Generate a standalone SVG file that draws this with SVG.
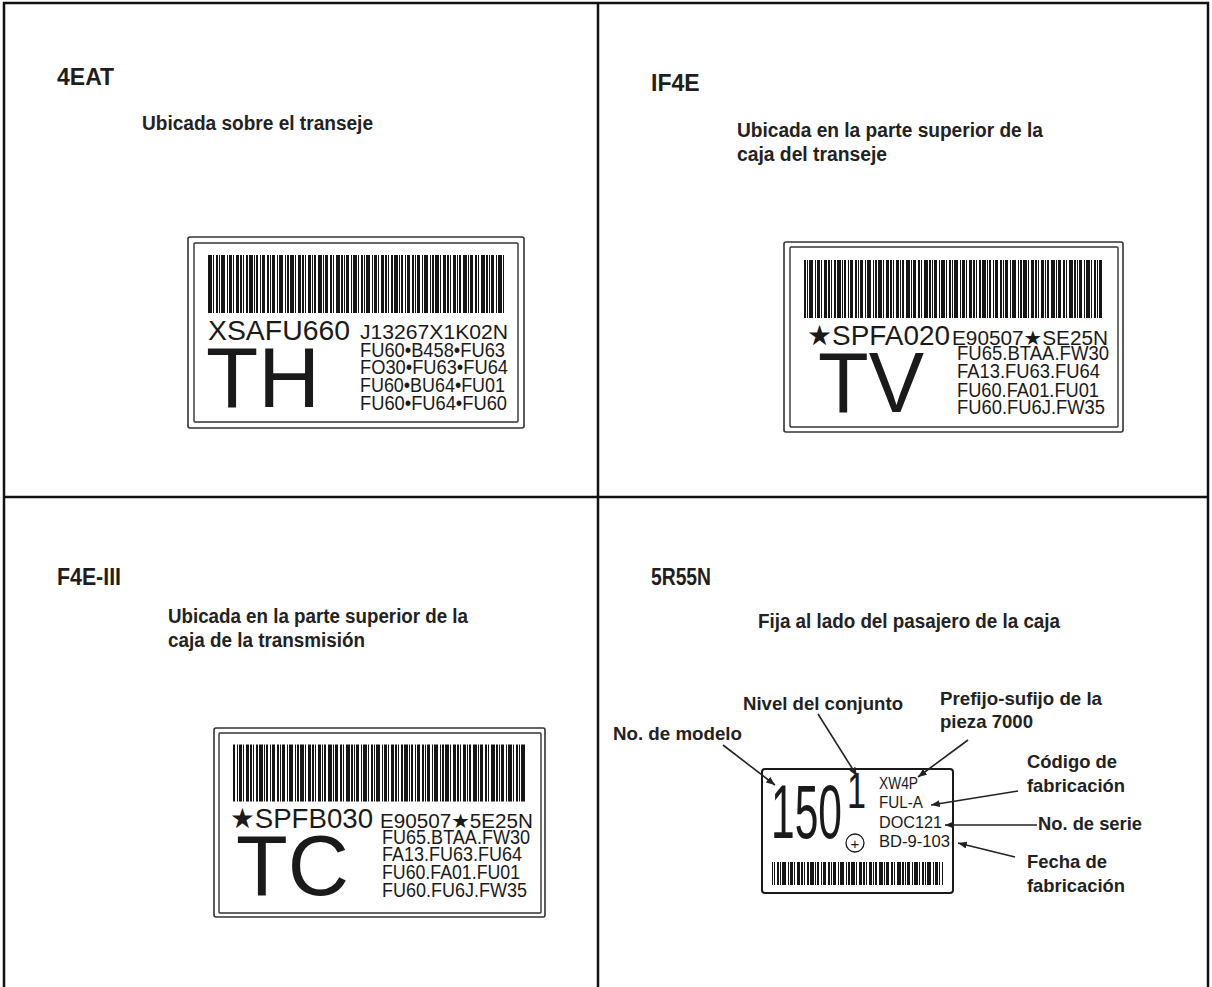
<svg xmlns="http://www.w3.org/2000/svg" width="1212" height="987" viewBox="0 0 1212 987">
<defs>
<style>
.frame{fill:none;stroke:#111;stroke-width:2.5}
.hdr{font-family:"Liberation Sans",Arial,sans-serif;font-weight:bold;font-size:23px;fill:#1e1e1e}
.desc{font-family:"Liberation Sans",Arial,sans-serif;font-weight:bold;font-size:20px;fill:#222}
.ann{font-family:"Liberation Sans",Arial,sans-serif;font-weight:bold;font-size:19px;fill:#222}
.lo{fill:#fff;stroke:#333;stroke-width:1.6}
.li{fill:none;stroke:#333;stroke-width:1.4}
.big{font-family:"Liberation Sans",Arial,sans-serif;font-size:86px;fill:#1a1a1a}
.code{font-family:"Liberation Sans","DejaVu Sans",Arial,sans-serif;font-size:28px;fill:#1a1a1a}
.sm{font-family:"Liberation Sans","DejaVu Sans",Arial,sans-serif;font-size:20px;fill:#1a1a1a}
.s4{font-family:"Liberation Sans",Arial,sans-serif;font-size:16.5px;fill:#1a1a1a}
.bc{stroke:#151515;fill:none;stroke-dasharray:4 1 1 2 2 1 1 1 4 2 1 1 3 1 1 2 3 1 2 1 1 2 2 1 4 1 1 1 2 2 1 1 3 2 2 1 1 1 3 2 1 1 4 2 1 1 2 1 4 1 1 2 3 1 2 1 1 2 3 1 1 1 2 2 4 1 1 1 3 2 2 1 1 2 4 1 2 1 1 1 3 2 1 1}
.conn{stroke:#222;stroke-width:1.6;fill:none;marker-end:url(#ah)}
</style>
<marker id="ah" viewBox="0 0 10 8" refX="10" refY="4" markerWidth="9" markerHeight="7" markerUnits="userSpaceOnUse" orient="auto">
<path d="M0,0 L10,4 L0,8 z" fill="#222"/>
</marker>
</defs>
<rect width="1212" height="987" fill="#fff"/>
<g id="frame">
<path class="frame" d="M4,987 V3 H1208 V987 M598,3 V987 M4,497 H1208"/>
</g>

<g id="panel-4eat">
<text class="hdr" x="57" y="85">4EAT</text>
<text class="desc" x="142" y="130" textLength="231" lengthAdjust="spacingAndGlyphs">Ubicada sobre el transeje</text>
<g id="label-th">
<rect class="lo" x="188" y="237" width="336" height="191" rx="2"/>
<rect class="li" x="194" y="243" width="324" height="179" rx="1"/>
<line class="bc" x1="208" y1="284" x2="505" y2="284" stroke-width="58"/>
<text class="code" x="208" y="340" textLength="142" lengthAdjust="spacingAndGlyphs">XSAFU660</text>
<text class="sm" x="360" y="339" textLength="148" lengthAdjust="spacingAndGlyphs">J13267X1K02N</text>
<text class="sm" x="360" y="357" textLength="145" lengthAdjust="spacingAndGlyphs">FU60•B458•FU63</text>
<text class="sm" x="360" y="374" textLength="148" lengthAdjust="spacingAndGlyphs">FO30•FU63•FU64</text>
<text class="sm" x="360" y="392" textLength="145" lengthAdjust="spacingAndGlyphs">FU60•BU64•FU01</text>
<text class="sm" x="360" y="410" textLength="147" lengthAdjust="spacingAndGlyphs">FU60•FU64•FU60</text>
<text class="big" x="206" y="407" textLength="114" lengthAdjust="spacingAndGlyphs">TH</text>
</g>
</g>

<g id="panel-if4e">
<text class="hdr" x="651" y="91">IF4E</text>
<text class="desc" x="737" y="137" textLength="306" lengthAdjust="spacingAndGlyphs">Ubicada en la parte superior de la</text>
<text class="desc" x="737" y="161" textLength="150" lengthAdjust="spacingAndGlyphs">caja del transeje</text>
<g id="label-tv">
<rect class="lo" x="784" y="242" width="339" height="190" rx="2"/>
<rect class="li" x="790" y="247" width="328" height="180" rx="1"/>
<line class="bc" x1="803" y1="289" x2="1102" y2="289" stroke-width="58" stroke-dashoffset="7"/>
<text class="code" x="807" y="345" textLength="143" lengthAdjust="spacingAndGlyphs">★SPFA020</text>
<text class="sm" x="952" y="345" textLength="156" lengthAdjust="spacingAndGlyphs">E90507★SE25N</text>
<text class="sm" x="957" y="360" textLength="152" lengthAdjust="spacingAndGlyphs">FU65.BTAA.FW30</text>
<text class="sm" x="957" y="378" textLength="143" lengthAdjust="spacingAndGlyphs">FA13.FU63.FU64</text>
<text class="sm" x="957" y="397" textLength="142" lengthAdjust="spacingAndGlyphs">FU60.FA01.FU01</text>
<text class="sm" x="957" y="414" textLength="148" lengthAdjust="spacingAndGlyphs">FU60.FU6J.FW35</text>
<text class="big" x="818" y="412" textLength="106" lengthAdjust="spacingAndGlyphs">TV</text>
</g>
</g>

<g id="panel-f4e-iii">
<text class="hdr" x="57" y="585" textLength="64" lengthAdjust="spacingAndGlyphs">F4E-III</text>
<text class="desc" x="168" y="623" textLength="300" lengthAdjust="spacingAndGlyphs">Ubicada en la parte superior de la</text>
<text class="desc" x="168" y="647" textLength="197" lengthAdjust="spacingAndGlyphs">caja de la transmisión</text>
<g id="label-tc">
<rect class="lo" x="214" y="728" width="331" height="189" rx="2"/>
<rect class="li" x="219" y="733" width="322" height="180" rx="1"/>
<line class="bc" x1="233" y1="773" x2="527" y2="773" stroke-width="57" stroke-dashoffset="15"/>
<text class="code" x="230" y="828" textLength="143" lengthAdjust="spacingAndGlyphs">★SPFB030</text>
<text class="sm" x="380" y="828" textLength="153" lengthAdjust="spacingAndGlyphs">E90507★5E25N</text>
<text class="sm" x="382" y="844" textLength="148" lengthAdjust="spacingAndGlyphs">FU65.BTAA.FW30</text>
<text class="sm" x="382" y="861" textLength="140" lengthAdjust="spacingAndGlyphs">FA13.FU63.FU64</text>
<text class="sm" x="382" y="879" textLength="138" lengthAdjust="spacingAndGlyphs">FU60.FA01.FU01</text>
<text class="sm" x="382" y="897" textLength="145" lengthAdjust="spacingAndGlyphs">FU60.FU6J.FW35</text>
<text class="big" x="236" y="895" textLength="113" lengthAdjust="spacingAndGlyphs">TC</text>
</g>
</g>

<g id="panel-5r55n">
<text class="hdr" x="651" y="585" textLength="60" lengthAdjust="spacingAndGlyphs">5R55N</text>
<text class="desc" x="758" y="628" textLength="302" lengthAdjust="spacingAndGlyphs">Fija al lado del pasajero de la caja</text>
<g id="label-150">
<rect x="762" y="769" width="191" height="124" rx="3" fill="#fff" stroke="#1a1a1a" stroke-width="2"/>
<text x="771" y="838" font-family="Liberation Sans, Arial, sans-serif" font-size="76" fill="#1a1a1a" textLength="71" lengthAdjust="spacingAndGlyphs">150</text>
<text x="847" y="808" font-family="Liberation Sans, Arial, sans-serif" font-size="50" fill="#1a1a1a" textLength="19" lengthAdjust="spacingAndGlyphs">1</text>
<circle cx="855" cy="843" r="9" fill="#fff" stroke="#1a1a1a" stroke-width="1.3"/>
<text x="855" y="848.5" text-anchor="middle" font-family="Liberation Sans, Arial, sans-serif" font-size="15" fill="#1a1a1a">+</text>
<text class="s4" x="879" y="789" textLength="39" lengthAdjust="spacingAndGlyphs">XW4P</text>
<text class="s4" x="879" y="808" textLength="44" lengthAdjust="spacingAndGlyphs">FUL-A</text>
<text class="s4" x="879" y="828" textLength="63" lengthAdjust="spacingAndGlyphs">DOC121</text>
<text class="s4" x="879" y="847" textLength="71" lengthAdjust="spacingAndGlyphs">BD-9-103</text>
<line class="bc" x1="772" y1="873.5" x2="943" y2="873.5" stroke-width="23" stroke-dashoffset="3"/>
</g>
<g id="annotations">
<text class="ann" x="613" y="740" textLength="129" lengthAdjust="spacingAndGlyphs">No. de modelo</text>
<text class="ann" x="743" y="710" textLength="160" lengthAdjust="spacingAndGlyphs">Nivel del conjunto</text>
<text class="ann" x="940" y="705" textLength="162" lengthAdjust="spacingAndGlyphs">Prefijo-sufijo de la</text>
<text class="ann" x="940" y="728" textLength="93" lengthAdjust="spacingAndGlyphs">pieza 7000</text>
<text class="ann" x="1027" y="768" textLength="90" lengthAdjust="spacingAndGlyphs">Código de</text>
<text class="ann" x="1027" y="792" textLength="98" lengthAdjust="spacingAndGlyphs">fabricación</text>
<text class="ann" x="1038" y="830" textLength="104" lengthAdjust="spacingAndGlyphs">No. de serie</text>
<text class="ann" x="1027" y="868" textLength="80" lengthAdjust="spacingAndGlyphs">Fecha de</text>
<text class="ann" x="1027" y="892" textLength="98" lengthAdjust="spacingAndGlyphs">fabricación</text>
</g>
</g>

<g id="connectors">
<line class="conn" x1="723" y1="745" x2="775" y2="785"/>
<line class="conn" x1="818" y1="714" x2="857" y2="776"/>
<line class="conn" x1="968" y1="740" x2="918" y2="777"/>
<line class="conn" x1="1018" y1="791" x2="931" y2="805"/>
<line class="conn" x1="1037" y1="825" x2="945" y2="825"/>
<line class="conn" x1="1015" y1="857" x2="958" y2="843"/>
</g>
</svg>
